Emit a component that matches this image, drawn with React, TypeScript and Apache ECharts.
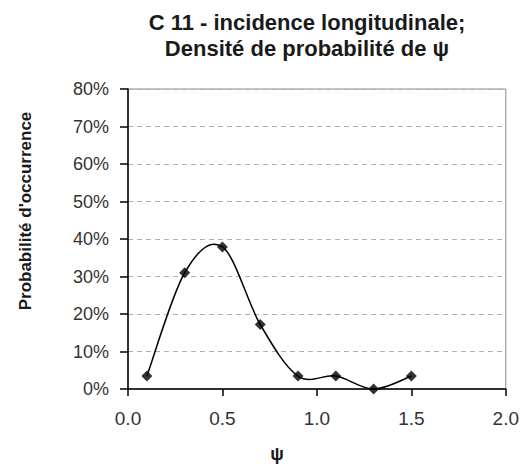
import React, { useEffect, useRef } from "react";
import * as echarts from "echarts";

const titleLines = ["C 11 - incidence longitudinale;", "Densité de probabilité de ψ"];
const xAxisName = "ψ";
const yAxisName = "Probabilité d'occurrence";
const psiValues = [0.1, 0.3, 0.5, 0.7, 0.9, 1.1, 1.3, 1.5];
const probabilities = [3.45, 31.0, 37.9, 17.2, 3.45, 3.45, 0, 3.45];

export default function App() {
  const ref = useRef<HTMLDivElement>(null);
  useEffect(() => {
    if (!ref.current) return;
    const chart = echarts.init(ref.current, null, { renderer: "svg" });
    const font = "Liberation Sans, Arial, sans-serif";
    const points = psiValues.map((x, i) => [x, probabilities[i]]);
    chart.setOption({
      animation: false,
      backgroundColor: "#ffffff",
      grid: {
        left: 128,
        right: 15,
        top: 89,
        bottom: 80,
        show: true,
        borderColor: "#8a8a8a",
        borderWidth: 1,
        backgroundColor: "transparent",
      },
      xAxis: {
        type: "value",
        min: 0,
        max: 2,
        interval: 0.5,
        axisLine: { show: true, onZero: false, lineStyle: { color: "#000", width: 1.5 } },
        axisTick: { show: true, inside: false, length: 7, lineStyle: { color: "#000", width: 1.5 } },
        axisLabel: {
          margin: 20,
          fontFamily: font,
          fontSize: 19,
          color: "#333",
          formatter: (v: number) => v.toFixed(1),
        },
        splitLine: { show: false },
      },
      yAxis: {
        type: "value",
        min: 0,
        max: 80,
        interval: 10,
        axisLine: { show: true, lineStyle: { color: "#000", width: 1.5 } },
        axisTick: { show: true, inside: false, length: 8, lineStyle: { color: "#000", width: 1.5 } },
        axisLabel: {
          margin: 19,
          fontFamily: font,
          fontSize: 18,
          color: "#333",
          formatter: (v: number) => v + "%",
        },
        splitLine: { show: true, lineStyle: { color: "#b0b0b0", type: [5, 4], width: 1 } },
      },
      graphic: [
        {
          type: "text",
          x: 307,
          y: 9,
          style: {
            text: titleLines.join("\n"),
            font: "bold 22px " + font,
            fill: "#1a1a1a",
            textAlign: "center",
            lineHeight: 26,
          },
        },
        {
          type: "text",
          x: 277,
          y: 454,
          style: {
            text: xAxisName,
            font: "bold 18px " + font,
            fill: "#1a1a1a",
            textAlign: "center",
            textVerticalAlign: "middle",
          },
        },
        {
          type: "text",
          x: 25,
          y: 211,
          rotation: Math.PI / 2,
          style: {
            text: yAxisName,
            font: "bold 17px " + font,
            fill: "#1a1a1a",
            textAlign: "center",
            textVerticalAlign: "middle",
          },
        },
      ],
      series: [
        {
          type: "custom",
          data: points,
          encode: { x: 0, y: 1 },
          z: 2,
          renderItem: (params: any, api: any) => {
            if (params.dataIndex !== 0) return null;
            const px = points.map((p) => api.coord(p));
            const n = px.length;
            const get = (i: number) => px[Math.max(0, Math.min(n - 1, i))];
            let d = `M${px[0][0]},${px[0][1]}`;
            for (let i = 0; i < n - 1; i++) {
              const p0 = get(i - 1);
              const p1 = get(i);
              const p2 = get(i + 1);
              const p3 = get(i + 2);
              const c1x = p1[0] + (p2[0] - p0[0]) / 6;
              const c1y = p1[1] + (p2[1] - p0[1]) / 6;
              const c2x = p2[0] - (p3[0] - p1[0]) / 6;
              const c2y = p2[1] - (p3[1] - p1[1]) / 6;
              d += ` C${c1x},${c1y} ${c2x},${c2y} ${p2[0]},${p2[1]}`;
            }
            return {
              type: "path",
              shape: { pathData: d },
              style: { fill: "none", stroke: "#000", lineWidth: 1.5 },
            };
          },
        },
        {
          type: "scatter",
          data: points,
          symbol: "diamond",
          symbolSize: 11,
          z: 3,
          itemStyle: { color: "#000" },
        },
      ],
    });
    return () => chart.dispose();
  }, []);
  return (
    <div
      ref={ref}
      style={{ position: "fixed", left: 0, top: 0, width: 522, height: 469, background: "#fff" }}
    />
  );
}
